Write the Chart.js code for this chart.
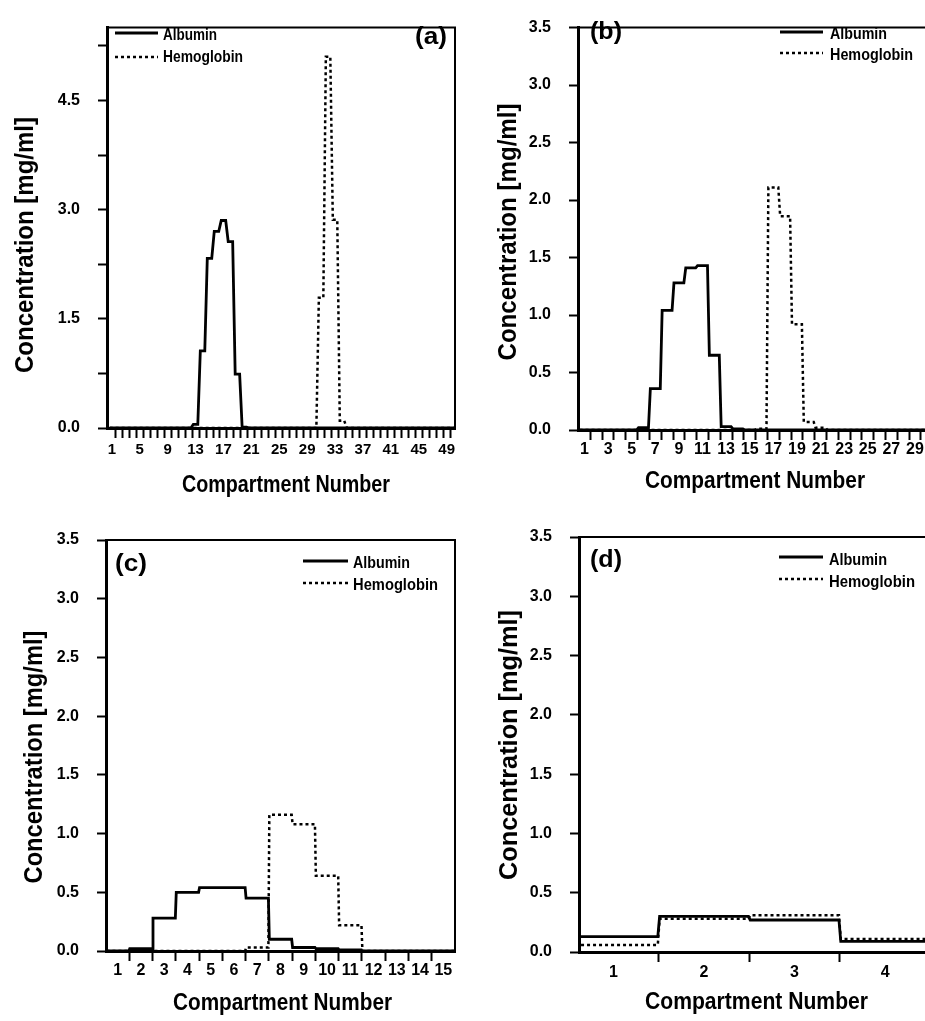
<!DOCTYPE html>
<html>
<head>
<meta charset="utf-8">
<script src="https://cdn.jsdelivr.net/npm/chart.js@4.4.0/dist/chart.umd.min.js"></script>
<style>
  html, body { margin: 0; padding: 0; background: #fff; }
  #wrap { position: relative; width: 925px; height: 1021px; overflow: hidden; }
  canvas { position: absolute; display: block; }
</style>
</head>
<body>
<div id="wrap">
  <canvas id="chartA" width="462" height="500" style="left:0;top:0"></canvas>
  <canvas id="chartB" width="463" height="500" style="left:462px;top:0"></canvas>
  <canvas id="chartC" width="462" height="521" style="left:0;top:500px"></canvas>
  <canvas id="chartD" width="463" height="521" style="left:462px;top:500px"></canvas>
</div>
<script>
// ---- data (mg/ml per compartment) ----
const compA = [1,2,3,4,5,6,7,8,9,10,11,12,13,14,15,16,17,18,19,20,21,22,23,24,25,
               26,27,28,29,30,31,32,33,34,35,36,37,38,39,40,41,42,43,44,45,46,47,48,49,50];
const albuminA = [0,0,0,0,0,0,0,0,0,0,
                  0,0,0.05,1.06,2.33,2.70,2.85,2.56,0.74,0.01,
                  0,0,0,0,0,0,0,0,0,0,
                  0,0,0,0,0,0,0,0,0,0,
                  0,0,0,0,0,0,0,0,0,0];
const hemoglobinA = [0,0,0,0,0,0,0,0,0,0,
                     0,0,0,0,0,0,0,0,0,0,
                     0,0,0,0,0,0,0,0,0,0,
                     1.79,5.10,2.86,0.10,0,0,0,0,0,0,
                     0,0,0,0,0,0,0,0,0,0];
const yTicksA = [0, 0.75, 1.5, 2.25, 3.0, 3.75, 4.5, 5.25];
const yLabelsA = [0, 1.5, 3.0, 4.5];
const xLabelsA = [1,5,9,13,17,21,25,29,33,37,41,45,49];

const compB = [1,2,3,4,5,6,7,8,9,10,11,12,13,14,15,16,17,18,19,20,21,22,23,24,25,26,27,28,29,30];
const albuminB = [0,0,0,0,0,0.02,0.36,1.04,1.28,1.41,1.43,0.65,0.03,0.01,0,
                  0,0,0,0,0,0,0,0,0,0,0,0,0,0,0];
const hemoglobinB = [0,0,0,0,0,0,0,0,0,0,0,0,0,0,0,
                     0.01,2.11,1.86,0.92,0.07,0.02,0,0,0,0,0,0,0,0,0];
const xLabelsB = [1,3,5,7,9,11,13,15,17,19,21,23,25,27,29];

const compC = [1,2,3,4,5,6,7,8,9,10,11,12,13,14,15];
const albuminC = [0,0.02,0.28,0.50,0.54,0.54,0.45,0.10,0.03,0.02,0.01,0,0,0,0];
const hemoglobinC = [0,0,0,0,0,0,0.03,1.16,1.08,0.64,0.22,0,0,0,0];
const xLabelsC = [1,2,3,4,5,6,7,8,9,10,11,12,13,14,15];

const compD = [1,2,3,4];
const albuminD = [0.13,0.30,0.27,0.09];
const hemoglobinD = [0.06,0.28,0.31,0.11];
const xLabelsD = [1,2,3,4];

const yTicks35 = [0, 0.5, 1.0, 1.5, 2.0, 2.5, 3.0, 3.5];

// ---- helpers ----
const FONT = '"Liberation Sans", Arial, Helvetica, sans-serif';

// turn per-compartment values into a histogram outline
function steps(comps, vals, inset) {
  const pts = [];
  comps.forEach((c, i) => {
    pts.push({ x: c - 0.5 + inset, y: vals[i] });
    pts.push({ x: c + 0.5 - inset, y: vals[i] });
  });
  return pts;
}

function drawText(ctx, t) {
  ctx.save();
  ctx.font = 'bold ' + t.size + 'px ' + FONT;
  ctx.fillStyle = '#000';
  ctx.textBaseline = 'alphabetic';
  const m = ctx.measureText(t.text).width;
  ctx.translate(t.x, t.y);
  if (t.rotate) {
    ctx.rotate(-Math.PI / 2);
    ctx.textAlign = 'center';
  } else {
    ctx.textAlign = 'left';
  }
  ctx.scale(t.w / m, 1);
  ctx.fillText(t.text, 0, 0);
  ctx.restore();
}

// frame, legend, panel letter and axis titles
const decor = {
  id: 'decor',
  afterDraw(chart, args, o) {
    const ctx = chart.ctx;
    const a = chart.chartArea;
    ctx.save();
    ctx.strokeStyle = '#000';
    ctx.lineWidth = 2;
    ctx.beginPath();
    ctx.moveTo(a.left, a.top);
    ctx.lineTo(a.right, a.top);
    if (o.frameRight) ctx.lineTo(a.right, a.bottom);
    ctx.stroke();

    chart.data.datasets.forEach((ds, i) => {
      const y = o.legend.y[i];
      ctx.setLineDash(ds.borderDash || []);
      ctx.lineWidth = ds.borderWidth;
      ctx.beginPath();
      ctx.moveTo(o.legend.x0, y);
      ctx.lineTo(o.legend.x1, y);
      ctx.stroke();
      ctx.setLineDash([]);
      drawText(ctx, Object.assign({ text: ds.label, size: 17 }, o.legend.text[i]));
    });
    ctx.restore();

    drawText(ctx, Object.assign({ size: 24 }, o.panel));
    drawText(ctx, Object.assign({ text: 'Compartment Number', size: 24 }, o.xTitle));
    drawText(ctx, Object.assign({ text: 'Concentration [mg/ml]', size: 26, rotate: true }, o.yTitle));
  }
};

function makePanel(id, p) {
  // tick marks sit on compartment boundaries, labels at compartment centres
  const bounds = p.comps.map(c => c + 0.5).filter(v => v > p.xMin && v < p.xMax);
  const xTicks = bounds.concat(p.xLabels).sort((u, v) => u - v);

  return new Chart(document.getElementById(id), {
    type: 'line',
    data: {
      datasets: [
        {
          label: 'Albumin',
          data: steps(p.comps, p.albumin, p.inset),
          borderColor: '#000',
          borderWidth: 2.8,
          pointRadius: 0,
          tension: 0,
          fill: false
        },
        {
          label: 'Hemoglobin',
          data: steps(p.comps, p.hemoglobin, p.inset),
          borderColor: '#000',
          borderWidth: 2.5,
          borderDash: [3, 3],
          pointRadius: 0,
          tension: 0,
          fill: false
        }
      ]
    },
    options: {
      responsive: false,
      animation: false,
      events: [],
      layout: { padding: { top: p.top, right: p.right, left: 0, bottom: 0 } },
      scales: {
        x: {
          type: 'linear',
          min: p.xMin,
          max: p.xMax,
          afterBuildTicks: s => { s.ticks = xTicks.map(v => ({ value: v })); },
          afterFit: s => { s.height = p.xHeight; },
          ticks: {
            autoSkip: false,
            maxRotation: 0,
            padding: p.xPad,
            color: '#000',
            font: { family: FONT, weight: 'bold', size: p.xFont },
            callback: v => p.xLabels.includes(v) ? String(v) : ''
          },
          grid: {
            drawOnChartArea: false,
            tickLength: 10,
            tickWidth: 2,
            tickColor: c => p.xLabels.includes(c.tick.value) ? 'rgba(0,0,0,0)' : '#000'
          },
          border: { color: '#000', width: 3 }
        },
        y: {
          min: 0,
          max: p.yMax,
          afterBuildTicks: s => { s.ticks = p.yTicks.map(v => ({ value: v })); },
          afterFit: s => { s.width = p.yWidth; },
          ticks: {
            padding: 18,
            color: '#000',
            font: { family: FONT, weight: 'bold', size: 16 },
            callback: v => p.yLabels.includes(v) ? v.toFixed(1) : ''
          },
          grid: { drawOnChartArea: false, tickLength: 9, tickWidth: 2, tickColor: '#000' },
          border: { color: '#000', width: 3 }
        }
      },
      plugins: {
        legend: { display: false },
        tooltip: { enabled: false },
        decor: p.decor
      }
    },
    plugins: [decor]
  });
}

makePanel('chartA', {
  comps: compA, albumin: albuminA, hemoglobin: hemoglobinA, inset: 0.18,
  xMin: 0.3, xMax: 50.2, xLabels: xLabelsA, xFont: 15, xPad: 3,
  yMax: 5.5, yTicks: yTicksA, yLabels: yLabelsA,
  top: 13, right: 7, yWidth: 107, xHeight: 72,
  decor: {
    frameRight: true,
    panel: { text: '(a)', x: 415, y: 44, w: 32 },
    legend: { x0: 115, x1: 158, y: [33, 57],
      text: [{ x: 163, y: 40, w: 54 }, { x: 163, y: 62, w: 80 }] },
    xTitle: { x: 182, y: 492, w: 208 },
    yTitle: { x: 33, y: 245, w: 256 }
  }
});

makePanel('chartB', {
  comps: compB, albumin: albuminB, hemoglobin: hemoglobinB, inset: 0.08,
  xMin: 0.45, xMax: 29.85, xLabels: xLabelsB, xFont: 16, xPad: 0,
  yMax: 3.5, yTicks: yTicks35, yLabels: yTicks35,
  top: 10, right: 0, yWidth: 116, xHeight: 70,
  decor: {
    frameRight: false,
    panel: { text: '(b)', x: 128, y: 39, w: 32 },
    legend: { x0: 318, x1: 361, y: [32, 53],
      text: [{ x: 368, y: 38.5, w: 57 }, { x: 368, y: 60, w: 83 }] },
    xTitle: { x: 183, y: 488, w: 220 },
    yTitle: { x: 54, y: 232, w: 257 }
  }
});

makePanel('chartC', {
  comps: compC, albumin: albuminC, hemoglobin: hemoglobinC, inset: 0.02,
  xMin: 0.5, xMax: 15.5, xLabels: xLabelsC, xFont: 16, xPad: 0,
  yMax: 3.5, yTicks: yTicks35, yLabels: yTicks35,
  top: 40, right: 7, yWidth: 106, xHeight: 70,
  decor: {
    frameRight: true,
    panel: { text: '(c)', x: 115, y: 71, w: 32 },
    legend: { x0: 303, x1: 348, y: [61, 83],
      text: [{ x: 353, y: 68, w: 57 }, { x: 353, y: 90, w: 85 }] },
    xTitle: { x: 173, y: 510, w: 219 },
    yTitle: { x: 42, y: 257, w: 253 }
  }
});

makePanel('chartD', {
  comps: compD, albumin: albuminD, hemoglobin: hemoglobinD, inset: 0.01,
  xMin: 0.62, xMax: 4.44, xLabels: xLabelsD, xFont: 16, xPad: 1,
  yMax: 3.5, yTicks: yTicks35, yLabels: yTicks35,
  top: 37, right: 0, yWidth: 117, xHeight: 69,
  decor: {
    frameRight: false,
    panel: { text: '(d)', x: 128, y: 67, w: 32 },
    legend: { x0: 317, x1: 361, y: [57, 79],
      text: [{ x: 367, y: 65, w: 58 }, { x: 367, y: 87, w: 86 }] },
    xTitle: { x: 183, y: 509, w: 223 },
    yTitle: { x: 55, y: 245, w: 270 }
  }
});
</script>
</body>
</html>
